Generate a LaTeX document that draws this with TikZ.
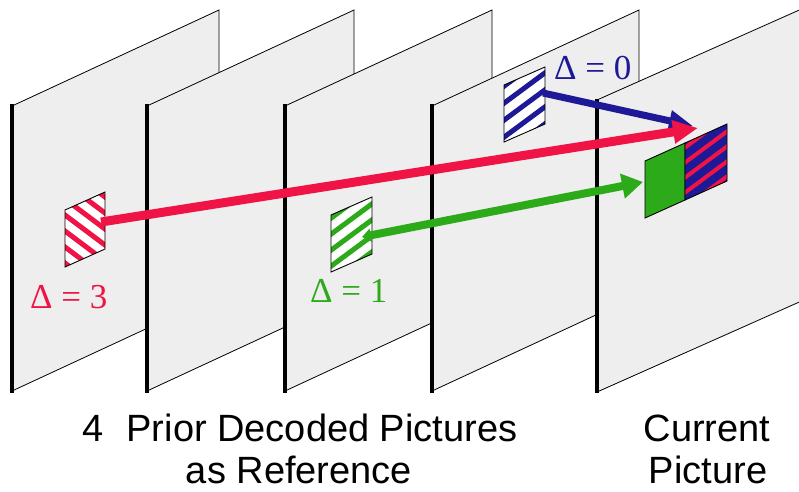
\documentclass[tikz,border=0pt]{standalone}
\usepackage{fontspec}
\setmainfont{Liberation Sans}
\newfontfamily\deltafont{Liberation Serif}
\usepackage{tikz}
\usetikzlibrary{arrows.meta, positioning, calc}
\definecolor{framegray}{RGB}{238, 238, 238}
\definecolor{refred}{RGB}{240, 20, 70}
\definecolor{refgreen}{RGB}{45, 170, 25}
\definecolor{refblue}{RGB}{30, 25, 150}

\tikzset{
  picframe/.style={fill=framegray, draw=black, line width=0.8pt},
  leftedge/.style={draw=black, line width=3.2pt},
  blockedge/.style={draw=black, line width=0.9pt},
  stripe/.style={line width=5pt},
  deltalbl/.style={font=\deltafont\fontsize{35}{40}\selectfont, anchor=base west, inner sep=0pt},
  caption/.style={font=\fontsize{38}{42}\selectfont, anchor=base, inner sep=0pt}
}

\begin{document}
\begin{tikzpicture}[x=1pt, y=-1pt]
  \useasboundingbox (0,0) rectangle (799,491);
  \clip (0,0) rectangle (799,491);

  % ---- Prior decoded pictures (oldest first) ----
  \foreach \fx in {12, 147, 285, 432} {
    \filldraw[picframe] (\fx,106) -- (\fx+207,10) -- (\fx+207,295) -- (\fx,391) -- cycle;
    \draw[leftedge] (\fx,104) -- (\fx,393);
  }

  % ---- Current picture ----
  \filldraw[picframe] (597,100) -- (860,-17) -- (860,275) -- (597,392) -- cycle;
  \draw[leftedge] (597,99) -- (597,393);

  % ---- Reference blocks ----
  % Delta = 3
  \begin{scope}
    \clip (65,210) -- (105,192) -- (105,249) -- (65,267) -- cycle;
    \fill[white] (40,180) rectangle (130,280);
    \foreach \k in {-4,...,4}
      \draw[stripe, refred] (45,200+\k*16) -- (125,260+\k*16);
  \end{scope}
  \draw[blockedge] (65,210) -- (105,192) -- (105,249) -- (65,267) -- cycle;

  % Delta = 1
  \begin{scope}
    \clip (331,215) -- (372,197) -- (372,254) -- (331,272) -- cycle;
    \fill[white] (310,180) rectangle (400,290);
    \foreach \k in {-4,...,4}
      \draw[stripe, refgreen] (311,265+\k*16) -- (392,205+\k*16);
  \end{scope}
  \draw[blockedge] (331,215) -- (372,197) -- (372,254) -- (331,272) -- cycle;

  % Delta = 0
  \begin{scope}
    \clip (504,85) -- (545,67) -- (545,124) -- (504,142) -- cycle;
    \fill[white] (480,50) rectangle (570,160);
    \foreach \k in {-4,...,4}
      \draw[stripe, refblue] (484,135+\k*17) -- (565,75+\k*17);
  \end{scope}
  \draw[blockedge] (504,85) -- (545,67) -- (545,124) -- (504,142) -- cycle;

  % predicted blocks in the current picture
  \filldraw[refgreen, blockedge] (645,161) -- (685,143) -- (685,200) -- (645,218) -- cycle;
  \begin{scope}
    \clip (685,143) -- (727,124) -- (727,181) -- (685,200) -- cycle;
    \fill[refblue] (670,110) rectangle (740,210);
    \foreach \k in {-4,...,4}
      \draw[line width=4pt, refred] (675,185+\k*15) -- (737,139+\k*15);
  \end{scope}
  \draw[blockedge] (685,143) -- (727,124) -- (727,181) -- (685,200) -- cycle;

  % ---- Motion vectors ----
  \coordinate (redsrc) at (101,222);
  \coordinate (redtip) at (698,128);
  \coordinate (greensrc) at (362,237);
  \coordinate (greentip) at (643,182);
  \coordinate (bluesrc) at (543,93);
  \coordinate (bluetip) at (693,126);

  \draw[refblue, line width=7pt, -{Triangle[length=24pt, width=20pt]}] (bluesrc) -- (bluetip);
  \draw[refred, line width=9pt, -{Triangle[length=25pt, width=22pt]}] (redsrc) -- (redtip);
  \draw[refgreen, line width=8pt, {Triangle[length=9pt, width=13pt]}-{Triangle[length=21pt, width=24pt]}] (greensrc) -- (greentip);

  % ---- Labels ----
  \node[deltalbl, refred]   (dthree) at (30,308)  {Δ = 3};
  \node[deltalbl, refgreen] (done)   at (310,302) {Δ = 1};
  \node[deltalbl, refblue]  (dzero)  at (554,79)  {Δ = 0};

  \node[caption] (priorA) at (300,441) {4\hspace{0.6em}Prior Decoded Pictures};
  \node[caption] (priorB) at (299,483) {as Reference};
  \node[caption] (curA)   at (707,441) {Current};
  \node[caption] (curB)   at (708,483) {Picture};
\end{tikzpicture}
\end{document}
